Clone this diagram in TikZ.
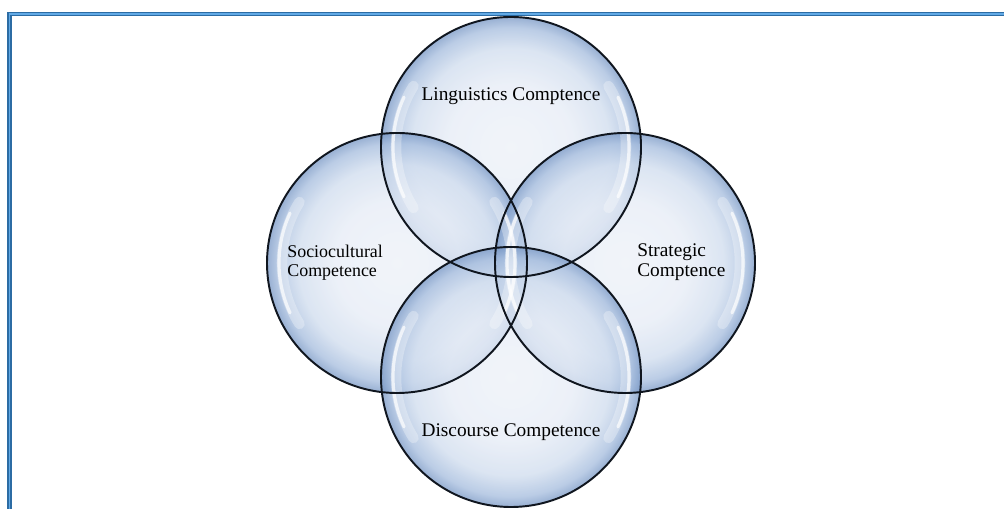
\documentclass[tikz,border=0pt]{standalone}
\usepackage{fontspec}
\setmainfont{Liberation Serif}
\usetikzlibrary{calc}
\definecolor{bubin}{HTML}{EDF1F8}
\definecolor{bubin2}{HTML}{E6ECF6}
\definecolor{bubmid}{HTML}{CFDCEE}
\definecolor{bubedge}{HTML}{A3BBDD}
\definecolor{bubout}{HTML}{7595C4}
\definecolor{frameDark}{HTML}{2C6CA4}
\definecolor{frameLight}{HTML}{62AAE6}
\definecolor{rimcol}{HTML}{10161F}
\pgfdeclareradialshading{bubble}{\pgfpoint{0bp}{0bp}}{color(0bp)=(bubin); color(12bp)=(bubin2); color(19bp)=(bubmid); color(23bp)=(bubedge); color(25bp)=(bubout); color(50bp)=(bubout)}
\tikzset{
  bub/.style={circle, minimum size=5.2cm, inner sep=0pt, shading=bubble, fill opacity=0.74, draw=none},
  rim/.style={draw=rimcol, line width=1.1pt},
  glosswide/.style={draw=white, line width=6pt, draw opacity=0.3, line cap=round},
  gloss/.style={draw=white, line width=1.8pt, draw opacity=0.7, line cap=round},
  lbl/.style={inner sep=0pt, text=black, font=\fontsize{11}{13}\selectfont},
  lbls/.style={inner sep=0pt, text=black, font=\fontsize{10.2}{12}\selectfont}
}
\begin{document}
\begin{tikzpicture}[x=0.02cm, y=-0.02cm]
\useasboundingbox (0,0) rectangle (1004,509);
\fill[white] (0,0) rectangle (1004,509);
% frame
\draw[frameDark, line width=2.4pt] (9.5,14) rectangle (1012,520);
\draw[frameLight, line width=0.9pt] (9.5,14) rectangle (1012,520);
% bubbles
\node[bub] (ling) at (511,147) {};
\node[bub] (soc) at (397,263) {};
\node[bub] (strat) at (625,263) {};
\node[bub] (disc) at (511,377) {};
% gloss: soft highlights along the left and right inner edges
\foreach \c in {ling,soc,strat,disc}{
  \draw[glosswide] ($(\c.center)+(148:115)$) arc[start angle=148, end angle=212, radius=115];
  \draw[gloss] ($(\c.center)+(155:118)$) arc[start angle=155, end angle=205, radius=118];
  \draw[glosswide] ($(\c.center)+(-32:115)$) arc[start angle=-32, end angle=32, radius=115];
  \draw[gloss] ($(\c.center)+(-25:118)$) arc[start angle=-25, end angle=25, radius=118];
}
% rims
\foreach \c in {ling,soc,strat,disc}{
  \draw[rim] (\c.center) circle[radius=130];
}
% labels
\node[lbl, anchor=base] (lingt) at (511,100.5) {Linguistics Comptence};
\node[lbls, anchor=base west] (soct1) at (287,258) {Sociocultural};
\node[lbls, anchor=base west] (soct2) at (287,276.5) {Competence};
\node[lbl, anchor=base west] (stratt1) at (637,256.5) {Strategic};
\node[lbl, anchor=base west] (stratt2) at (637,276.5) {Comptence};
\node[lbl, anchor=base] (disct) at (511,437) {Discourse Competence};
\end{tikzpicture}
\end{document}
